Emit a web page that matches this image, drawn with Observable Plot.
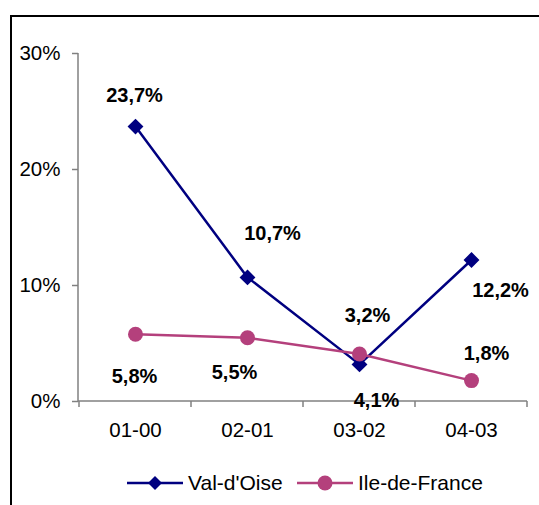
<!DOCTYPE html>
<html>
<head>
<meta charset="utf-8">
<script src="https://cdn.jsdelivr.net/npm/d3@7"></script>
<script src="https://cdn.jsdelivr.net/npm/@observablehq/plot@0.6"></script>
<style>
  html, body { margin: 0; padding: 0; background: #fff; width: 539px; height: 505px; overflow: hidden; }
  body { position: relative; font-family: "Liberation Sans", Arial, sans-serif; }
  #frame { position: absolute; left: 10px; top: 15px; width: 540px; height: 500px;
           border-left: 2px solid #000; border-top: 2px solid #000; }
  #chart { position: absolute; left: 0; top: 0; }
  #legend { position: absolute; left: 0; top: 469px; width: 539px; height: 28px; font-size: 21px; color: #000; }
  .item { position: absolute; top: 0; height: 28px; display: flex; align-items: center; }
  .item svg { display: block; }
  .item span { margin-left: 4px; }
</style>
</head>
<body>
<div id="frame"></div>
<div id="chart"></div>
<div id="legend"></div>
<script>
// Data
const periods = ["01-00", "02-01", "03-02", "04-03"];
const valDOise = [23.7, 10.7, 3.2, 12.2];
const ileDeFrance = [5.8, 5.5, 4.1, 1.8];
const yTicks = [0, 10, 20, 30];
const seriesNames = ["Val-d'Oise", "Ile-de-France"];

// Label placement (layout, in pixels relative to the point)
const valLabelDx = [-1, 25, 8, 29];
const valLabelDy = [-31, -44, -49, 31];
const ileLabelDx = [-1, -13, 17, 15];
const ileLabelDy = [42, 35, 47, -27];

const navy = "#000080";
const plum = "#b4407c";
const fmt = v => v.toFixed(1).replace(".", ",") + "%";

const valData = periods.map((p, i) => ({period: p, value: valDOise[i], dx: valLabelDx[i], dy: valLabelDy[i]}));
const ileData = periods.map((p, i) => ({period: p, value: ileDeFrance[i], dx: ileLabelDx[i], dy: ileLabelDy[i]}));

const labelMarks = data => data.map(d =>
  Plot.text([d], {x: "period", y: "value", text: d => fmt(d.value), dx: d.dx, dy: d.dy,
    fontSize: 20, fontWeight: "bold", fill: "#000"})
);

const plot = Plot.plot({
  width: 539,
  height: 440,
  marginLeft: 78,
  marginRight: 12,
  marginTop: 53,
  marginBottom: 39,
  style: {fontFamily: "'Liberation Sans', Arial, sans-serif", fontSize: "20.5px", background: "transparent", overflow: "visible"},
  x: {type: "band", domain: periods, padding: 0, label: null},
  y: {domain: [0, 30], label: null},
  marks: [
    Plot.axisY({ticks: yTicks, tickFormat: d => d + "%", tickSize: 6, tickPadding: 12, stroke: "#808080", fill: "#000", strokeWidth: 1.5, fontSize: 20.5}),
    Plot.axisX({ticks: periods, tickSize: 0, tickPadding: 21, fontSize: 20.5, fill: "#000"}),
    Plot.line(valData, {x: "period", y: "value", stroke: navy, strokeWidth: 2.5}),
    Plot.line(ileData, {x: "period", y: "value", stroke: plum, strokeWidth: 2.5}),
    Plot.dot(valData, {x: "period", y: "value", symbol: "diamond2", r: 6.2, fill: navy, stroke: navy}),
    Plot.dot(ileData, {x: "period", y: "value", r: 7.5, fill: plum, stroke: "none"}),
    ...labelMarks(valData),
    ...labelMarks(ileData)
  ]
});
document.getElementById("chart").appendChild(plot);

// Axis lines and category-boundary ticks, positioned from the plot's scales
const xs = plot.scale("x");
const ys = plot.scale("y");
const svg = d3.select(plot);
const x0 = xs.range[0], x1 = xs.range[1];
const y0 = ys.apply(0), yTop = ys.apply(30);
const g = svg.insert("g", ":first-child").attr("stroke", "#808080").attr("stroke-width", 1.5);
g.append("line").attr("x1", x0).attr("x2", x0).attr("y1", yTop).attr("y2", y0);
g.append("line").attr("x1", x0).attr("x2", x1).attr("y1", y0).attr("y2", y0);
const bounds = periods.map(p => xs.apply(p)).concat([x1]);
bounds.forEach(b => g.append("line").attr("x1", b).attr("x2", b).attr("y1", y0).attr("y2", y0 + 6));

// Legend
const legend = document.getElementById("legend");
const items = [
  {name: seriesNames[0], color: navy, symbol: "diamond", left: 127},
  {name: seriesNames[1], color: plum, symbol: "circle", left: 297}
];
items.forEach(it => {
  const div = document.createElement("div");
  div.className = "item";
  div.style.left = it.left + "px";
  const s = d3.create("svg").attr("width", 57).attr("height", 28);
  s.append("line").attr("x1", 0).attr("x2", 56).attr("y1", 14).attr("y2", 14).attr("stroke", it.color).attr("stroke-width", 2.5);
  if (it.symbol === "diamond") {
    s.append("path").attr("d", "M28,7L35,14L28,21L21,14Z").attr("fill", it.color);
  } else {
    s.append("circle").attr("cx", 28).attr("cy", 14).attr("r", 7.5).attr("fill", it.color);
  }
  div.appendChild(s.node());
  const t = document.createElement("span");
  t.textContent = it.name;
  div.appendChild(t);
  legend.appendChild(div);
});
</script>
</body>
</html>
